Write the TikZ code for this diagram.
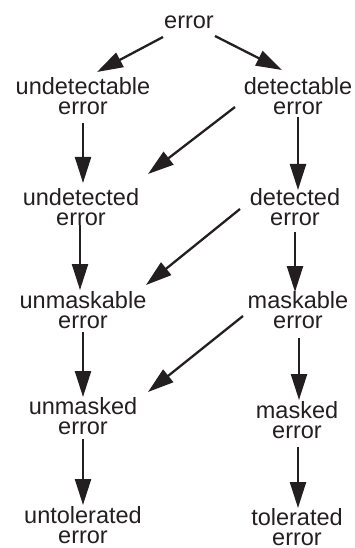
\documentclass[tikz,border=0pt]{standalone}
\usepackage{fontspec}
\setmainfont{Liberation Sans}
\usetikzlibrary{arrows.meta,calc}
\definecolor{ink}{HTML}{231F20}
\begin{document}
\begin{tikzpicture}[x=1pt,y=-1pt,
  lbl/.style={inner sep=0pt,align=center,text=ink,font=\fontsize{23.5}{19.5}\selectfont},
  arr/.style={draw=ink,line width=2.3pt,-{Triangle[length=26pt,width=16pt]}}]
\useasboundingbox (0,0) rectangle (354,548);
\node[lbl] (err) at (189,22) {error};
\node[lbl] (ude) at (83,96) {undetectable\\error};
\node[lbl] (de) at (298,96) {detectable\\error};
\node[lbl] (udd) at (81,207) {undetected\\error};
\node[lbl] (dd) at (295,207) {detected\\error};
\node[lbl] (unm) at (83,310) {unmaskable\\error};
\node[lbl] (mk) at (298,310) {maskable\\error};
\node[lbl] (unmd) at (83,416) {unmasked\\error};
\node[lbl] (mkd) at (297,420) {masked\\error};
\node[lbl] (untol) at (83,525) {untolerated\\error};
\node[lbl] (tol) at (297,527) {tolerated\\error};
% arrows
\draw[arr] ($(err)+(-26,15)$) -- ($(ude)+(14,-24)$);
\draw[arr] ($(err)+(26,14)$) -- ($(de)+(-16,-26)$);
\draw[arr] ($(ude)+(0,27)$) -- ($(udd)+(2,-24)$);
\draw[arr] ($(de)+(-63,11)$) -- ($(udd)+(67,-33)$);
\draw[arr] ($(de)+(0,21)$) -- ($(dd)+(3,-17)$);
\draw[arr] ($(udd)+(-1,18)$) -- ($(unm)+(-3,-20)$);
\draw[arr] ($(dd)+(-55,2)$) -- ($(unm)+(63,-25)$);
\draw[arr] ($(dd)+(0,25)$) -- ($(mk)+(-3,-18)$);
\draw[arr] ($(unm)+(0,22)$) -- ($(unmd)+(0,-19)$);
\draw[arr] ($(mk)+(-55,6)$) -- ($(unmd)+(65,-24)$);
\draw[arr] ($(mk)+(1,28)$) -- ($(mkd)+(2,-20)$);
\draw[arr] ($(unmd)+(0,23)$) -- ($(untol)+(0,-20)$);
\draw[arr] ($(mkd)+(1,27)$) -- ($(tol)+(1,-19)$);
\end{tikzpicture}
\end{document}
